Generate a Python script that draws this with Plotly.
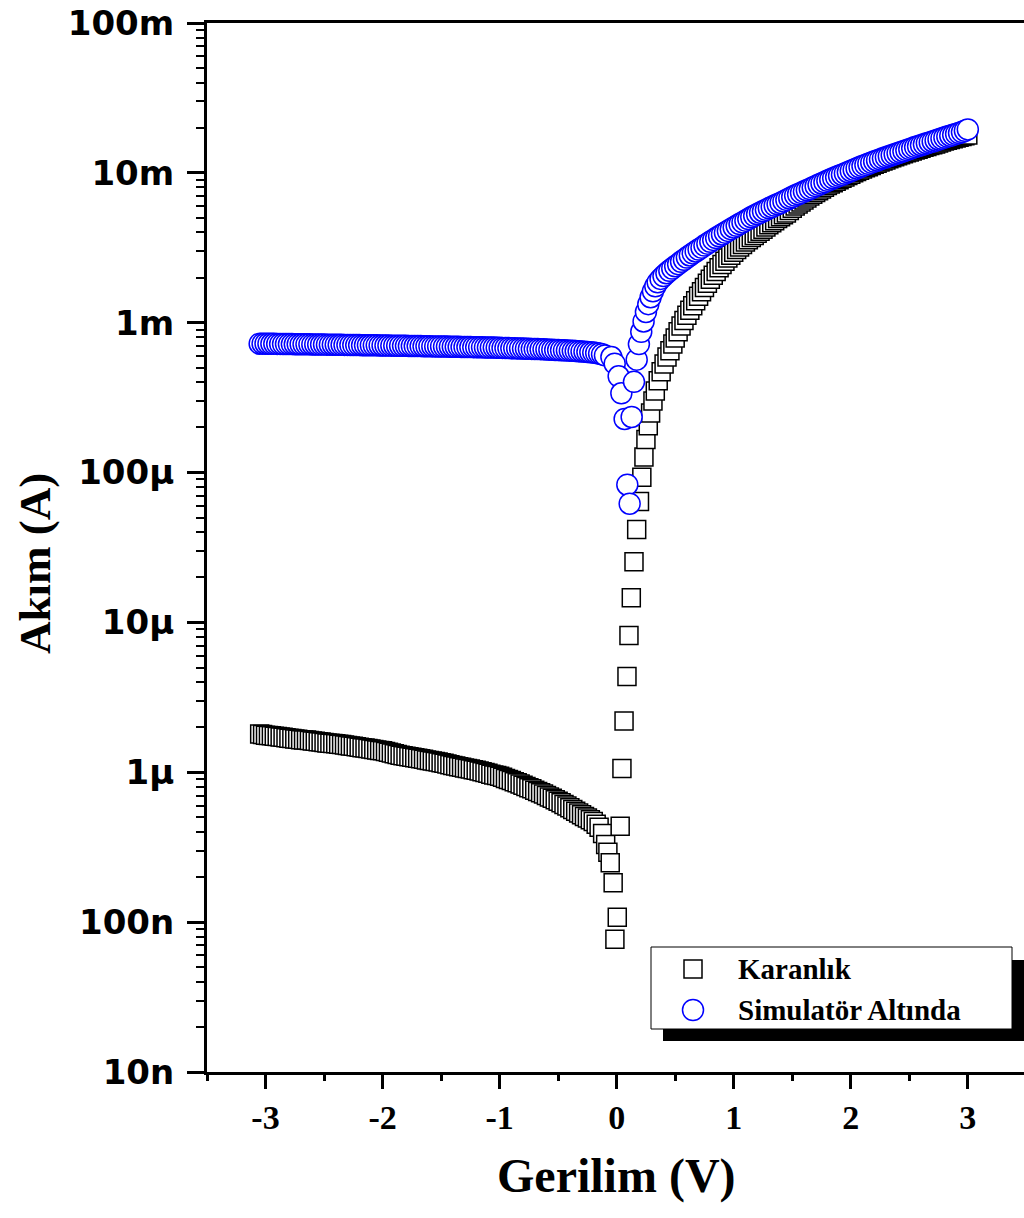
import plotly.graph_objects as go

# ---------------- data ----------------
# Karanlık (dark): voltage [V] and current [µA]
dark_v = [
    -3.050, -3.025, -3.000, -2.975, -2.950, -2.925, -2.900, -2.875, -2.850, -2.825,
    -2.800, -2.775, -2.750, -2.725, -2.700, -2.675, -2.650, -2.625, -2.600, -2.575,
    -2.550, -2.525, -2.500, -2.475, -2.450, -2.425, -2.400, -2.375, -2.350, -2.325,
    -2.300, -2.275, -2.250, -2.225, -2.200, -2.175, -2.150, -2.125, -2.100, -2.075,
    -2.050, -2.025, -2.000, -1.975, -1.950, -1.925, -1.900, -1.875, -1.850, -1.825,
    -1.800, -1.775, -1.750, -1.725, -1.700, -1.675, -1.650, -1.625, -1.600, -1.575,
    -1.550, -1.525, -1.500, -1.475, -1.450, -1.425, -1.400, -1.375, -1.350, -1.325,
    -1.300, -1.275, -1.250, -1.225, -1.200, -1.175, -1.150, -1.125, -1.100, -1.075,
    -1.050, -1.025, -1.000, -0.975, -0.950, -0.925, -0.900, -0.875, -0.850, -0.825,
    -0.800, -0.775, -0.750, -0.725, -0.700, -0.675, -0.650, -0.625, -0.600, -0.575,
    -0.550, -0.525, -0.500, -0.475, -0.450, -0.425, -0.400, -0.375, -0.350, -0.325,
    -0.300, -0.275, -0.250, -0.225, -0.200, -0.175, -0.150, -0.120,
    -0.094, -0.075, -0.055, -0.030, -0.015, 0.005, 0.030, 0.045, 0.063, 0.088,
    0.105, 0.125, 0.148, 0.171, 0.195, 0.215, 0.233, 0.250, 0.270, 0.290,
    0.310, 0.330, 0.355, 0.380, 0.405, 0.430, 0.455, 0.480,
    0.500, 0.525, 0.550, 0.575, 0.600, 0.625, 0.650, 0.675, 0.700, 0.725,
    0.750, 0.775, 0.800, 0.825, 0.850, 0.875, 0.900, 0.925, 0.950, 0.975,
    1.000, 1.025, 1.050, 1.075, 1.100, 1.125, 1.150, 1.175, 1.200, 1.225,
    1.250, 1.275, 1.300, 1.325, 1.350, 1.375, 1.400, 1.425, 1.450, 1.475,
    1.500, 1.525, 1.550, 1.575, 1.600, 1.625, 1.650, 1.675, 1.700, 1.725,
    1.750, 1.775, 1.800, 1.825, 1.850, 1.875, 1.900, 1.925, 1.950, 1.975,
    2.000, 2.025, 2.050, 2.075, 2.100, 2.125, 2.150, 2.175, 2.200, 2.225,
    2.250, 2.275, 2.300, 2.325, 2.350, 2.375, 2.400, 2.425, 2.450, 2.475,
    2.500, 2.525, 2.550, 2.575, 2.600, 2.625, 2.650, 2.675, 2.700, 2.725,
    2.750, 2.775, 2.800, 2.825, 2.850, 2.875, 2.900, 2.925, 2.950, 2.975,
    3.000,
]
dark_i_uA = [
    1.80, 1.79, 1.77, 1.76, 1.75, 1.74, 1.73, 1.72, 1.71, 1.70,
    1.69, 1.68, 1.67, 1.66, 1.65, 1.645, 1.64, 1.63, 1.62, 1.61,
    1.60, 1.59, 1.58, 1.57, 1.565, 1.557, 1.55, 1.54, 1.53, 1.52,
    1.51, 1.50, 1.49, 1.48, 1.47, 1.46, 1.45, 1.44, 1.43, 1.42,
    1.41, 1.40, 1.39, 1.375, 1.36, 1.345, 1.33, 1.315, 1.30, 1.29,
    1.28, 1.27, 1.26, 1.25, 1.24, 1.23, 1.22, 1.21, 1.20, 1.19,
    1.18, 1.17, 1.16, 1.148, 1.135, 1.122, 1.11, 1.10, 1.09, 1.08,
    1.07, 1.06, 1.05, 1.04, 1.03, 1.02, 1.01, 0.997, 0.985, 0.972,
    0.96, 0.95, 0.94, 0.925, 0.91, 0.895, 0.88, 0.865, 0.85, 0.835,
    0.82, 0.805, 0.79, 0.775, 0.76, 0.745, 0.73, 0.715, 0.70, 0.685,
    0.67, 0.655, 0.64, 0.625, 0.61, 0.595, 0.58, 0.565, 0.55, 0.535,
    0.52, 0.507, 0.495, 0.482, 0.47, 0.45, 0.43, 0.39,
    0.33, 0.293, 0.249, 0.183, 0.077, 0.108, 0.436, 1.06, 2.2, 4.35,
    8.19, 14.6, 25.4, 41.7, 64.0, 93.0, 127.0, 166.0, 205.0, 250.0,
    300.0, 350.0, 410.0, 470.0, 530.0, 590.0, 650.0, 720.0,
    790.0, 870.0, 950.0, 1035.0, 1120.0, 1210.0, 1300.0, 1400.0, 1500.0, 1610.0,
    1720.0, 1835.0, 1950.0, 2075.0, 2200.0, 2325.0, 2450.0, 2575.0, 2700.0, 2825.0,
    2950.0, 3075.0, 3200.0, 3325.0, 3450.0, 3575.0, 3700.0, 3825.0, 3950.0, 4075.0,
    4200.0, 4350.0, 4500.0, 4650.0, 4800.0, 4950.0, 5100.0, 5250.0, 5400.0, 5600.0,
    5800.0, 6000.0, 6200.0, 6400.0, 6600.0, 6800.0, 7000.0, 7200.0, 7400.0, 7600.0,
    7800.0, 8020.0, 8250.0, 8420.0, 8600.0, 8800.0, 9000.0, 9200.0, 9400.0, 9600.0,
    9800.0, 10000.0, 10200.0, 10400.0, 10600.0, 10800.0, 11000.0, 11200.0, 11400.0, 11600.0,
    11800.0, 12000.0, 12200.0, 12400.0, 12600.0, 12800.0, 13000.0, 13200.0, 13400.0, 13600.0,
    13800.0, 14000.0, 14200.0, 14400.0, 14600.0, 14800.0, 15000.0, 15200.0, 15400.0, 15600.0,
    15800.0, 16050.0, 16300.0, 16500.0, 16700.0, 16900.0, 17100.0, 17300.0, 17500.0, 17700.0,
    17900.0,
]

# Simulatör Altında (illuminated): voltage [V] and current [mA]
light_v = [
    -3.050, -3.025, -3.000, -2.975, -2.950, -2.925, -2.900, -2.875, -2.850, -2.825,
    -2.800, -2.775, -2.750, -2.725, -2.700, -2.675, -2.650, -2.625, -2.600, -2.575,
    -2.550, -2.525, -2.500, -2.475, -2.450, -2.425, -2.400, -2.375, -2.350, -2.325,
    -2.300, -2.275, -2.250, -2.225, -2.200, -2.175, -2.150, -2.125, -2.100, -2.075,
    -2.050, -2.025, -2.000, -1.975, -1.950, -1.925, -1.900, -1.875, -1.850, -1.825,
    -1.800, -1.775, -1.750, -1.725, -1.700, -1.675, -1.650, -1.625, -1.600, -1.575,
    -1.550, -1.525, -1.500, -1.475, -1.450, -1.425, -1.400, -1.375, -1.350, -1.325,
    -1.300, -1.275, -1.250, -1.225, -1.200, -1.175, -1.150, -1.125, -1.100, -1.075,
    -1.050, -1.025, -1.000, -0.975, -0.950, -0.925, -0.900, -0.875, -0.850, -0.825,
    -0.800, -0.775, -0.750, -0.725, -0.700, -0.675, -0.650, -0.625, -0.600, -0.575,
    -0.550, -0.525, -0.500, -0.475, -0.450, -0.425, -0.400, -0.375, -0.350, -0.325,
    -0.300, -0.275, -0.250, -0.225, -0.200, -0.175, -0.150, -0.125, -0.100,
    -0.045, -0.017, 0.017, 0.040, 0.068, 0.091, 0.111, 0.128, 0.148, 0.171,
    0.190, 0.210, 0.230, 0.250, 0.270, 0.290, 0.310, 0.330,
    0.350, 0.375, 0.400, 0.425, 0.450, 0.475, 0.500, 0.525, 0.550, 0.575,
    0.600, 0.625, 0.650, 0.675, 0.700, 0.725, 0.750, 0.775, 0.800, 0.825,
    0.850, 0.875, 0.900, 0.925, 0.950, 0.975, 1.000, 1.025, 1.050, 1.075,
    1.100, 1.125, 1.150, 1.175, 1.200, 1.225, 1.250, 1.275, 1.300, 1.325,
    1.350, 1.375, 1.400, 1.425, 1.450, 1.475, 1.500, 1.525, 1.550, 1.575,
    1.600, 1.625, 1.650, 1.675, 1.700, 1.725, 1.750, 1.775, 1.800, 1.825,
    1.850, 1.875, 1.900, 1.925, 1.950, 1.975, 2.000, 2.025, 2.050, 2.075,
    2.100, 2.125, 2.150, 2.175, 2.200, 2.225, 2.250, 2.275, 2.300, 2.325,
    2.350, 2.375, 2.400, 2.425, 2.450, 2.475, 2.500, 2.525, 2.550, 2.575,
    2.600, 2.625, 2.650, 2.675, 2.700, 2.725, 2.750, 2.775, 2.800, 2.825,
    2.850, 2.875, 2.900, 2.925, 2.950, 2.975, 3.000,
]
light_i_mA = [
    0.725, 0.725, 0.724, 0.724, 0.723, 0.723, 0.722, 0.722, 0.721, 0.721,
    0.720, 0.720, 0.719, 0.719, 0.718, 0.718, 0.717, 0.717, 0.716, 0.716,
    0.715, 0.715, 0.715, 0.714, 0.714, 0.713, 0.713, 0.712, 0.712, 0.711,
    0.711, 0.710, 0.710, 0.709, 0.709, 0.708, 0.708, 0.707, 0.707, 0.706,
    0.706, 0.705, 0.705, 0.704, 0.704, 0.703, 0.703, 0.702, 0.702, 0.701,
    0.701, 0.700, 0.700, 0.699, 0.699, 0.698, 0.697, 0.696, 0.696, 0.695,
    0.695, 0.694, 0.694, 0.693, 0.693, 0.692, 0.692, 0.691, 0.690, 0.689,
    0.689, 0.688, 0.688, 0.687, 0.686, 0.685, 0.685, 0.684, 0.683, 0.682,
    0.682, 0.681, 0.680, 0.679, 0.678, 0.677, 0.676, 0.675, 0.674, 0.673,
    0.672, 0.671, 0.670, 0.669, 0.668, 0.667, 0.666, 0.664, 0.663, 0.661,
    0.660, 0.658, 0.657, 0.655, 0.654, 0.652, 0.651, 0.649, 0.647, 0.645,
    0.643, 0.641, 0.638, 0.635, 0.632, 0.628, 0.622, 0.615, 0.605,
    0.590, 0.533, 0.439, 0.338, 0.228, 0.083, 0.062, 0.235, 0.403, 0.567,
    0.72, 0.87, 1.02, 1.18, 1.33, 1.48, 1.62, 1.75,
    1.86, 1.96, 2.05, 2.14, 2.22, 2.30, 2.38, 2.46, 2.55, 2.63,
    2.72, 2.81, 2.90, 2.99, 3.08, 3.17, 3.27, 3.37, 3.47, 3.57,
    3.67, 3.77, 3.88, 3.99, 4.10, 4.21, 4.32, 4.43, 4.55, 4.67,
    4.80, 4.92, 5.05, 5.17, 5.30, 5.42, 5.55, 5.67, 5.80, 5.92,
    6.05, 6.17, 6.30, 6.45, 6.60, 6.75, 6.90, 7.05, 7.20, 7.35,
    7.50, 7.65, 7.80, 7.97, 8.15, 8.32, 8.50, 8.67, 8.85, 9.02,
    9.20, 9.37, 9.55, 9.72, 9.90, 10.1, 10.3, 10.5, 10.7, 10.9,
    11.1, 11.3, 11.5, 11.7, 11.9, 12.1, 12.3, 12.5, 12.7, 12.9,
    13.1, 13.3, 13.5, 13.72, 13.95, 14.17, 14.4, 14.62, 14.85, 15.07,
    15.3, 15.52, 15.75, 15.97, 16.2, 16.45, 16.7, 16.95, 17.2, 17.45,
    17.7, 17.95, 18.2, 18.45, 18.7, 19.1, 19.5,
]

dark_i = [v * 1e-6 for v in dark_i_uA]
light_i = [v * 1e-3 for v in light_i_mA]

x_tickvals = [-3, -2, -1, 0, 1, 2, 3]
x_ticktext = ["-3", "-2", "-1", "0", "1", "2", "3"]
y_tickvals = [1e-8, 1e-7, 1e-6, 1e-5, 1e-4, 1e-3, 1e-2, 1e-1]
y_ticktext = ["10n", "100n", "1µ", "10µ", "100µ", "1m", "10m", "100m"]

series_names = ["Karanlık", "Simulatör Altında"]

# ---------------- geometry (body margin removed by post_script) ----------------
W, H = 1024, 1218
L, R, T, B = 207, 0, 23, 146
pw, ph = W - L - R, H - T - B


def sx(px):  # screen x -> paper fraction
    return (px - L) / pw


def sy(py):  # screen y -> paper fraction
    return (H - B - py) / ph


SERIF = "Liberation Serif, Times New Roman, serif"
SANS = "DejaVu Sans, Arial, sans-serif"
BLUE = "#0000FF"

fig = go.Figure()
fig.add_trace(go.Scatter(
    x=dark_v, y=dark_i, mode="markers", name=series_names[0], showlegend=False,
    marker=dict(symbol="square", size=18, color="white",
                line=dict(color="black", width=1.5)),
))
fig.add_trace(go.Scatter(
    x=light_v, y=light_i, mode="markers", name=series_names[1], showlegend=False,
    marker=dict(symbol="circle", size=21, color="white",
                line=dict(color=BLUE, width=1.5)),
))

# legend symbols on an overlay axis measured in screen pixels
legend_sym_x = [693, 693]
legend_sym_y = [969, 1010]
fig.add_trace(go.Scatter(
    x=[legend_sym_x[0]], y=[legend_sym_y[0]], xaxis="x2", yaxis="y2",
    mode="markers", showlegend=False, hoverinfo="skip", cliponaxis=False,
    marker=dict(symbol="square", size=18, color="white",
                line=dict(color="black", width=1.5)),
))
fig.add_trace(go.Scatter(
    x=[legend_sym_x[1]], y=[legend_sym_y[1]], xaxis="x2", yaxis="y2",
    mode="markers", showlegend=False, hoverinfo="skip", cliponaxis=False,
    marker=dict(symbol="circle", size=21, color="white",
                line=dict(color=BLUE, width=1.5)),
))

fig.update_layout(
    width=W, height=H,
    margin=dict(l=L, r=R, t=T, b=B, pad=0, autoexpand=False),
    paper_bgcolor="white", plot_bgcolor="white",
    showlegend=False,
    xaxis=dict(
        range=[-3.5, 3.48], showgrid=False, zeroline=False, automargin=False,
        showline=True, linecolor="black", linewidth=3, mirror=True,
        ticks="outside", ticklen=14, tickwidth=3, tickcolor="black",
        tickvals=x_tickvals, ticktext=x_ticktext,
        tickfont=dict(family=SERIF, size=34, color="black", weight="bold"),
        ticklabelstandoff=-1, ticklabeloverflow="allow",
        minor=dict(ticks="outside", ticklen=6, tickwidth=3, tickcolor="black",
                   dtick=0.5, tick0=0, showgrid=False),
    ),
    yaxis=dict(
        type="log", range=[-8, -1], showgrid=False, zeroline=False, automargin=False,
        showline=True, linecolor="black", linewidth=3, mirror=False,
        ticks="outside", ticklen=17, tickwidth=3, tickcolor="black",
        tickvals=y_tickvals, ticktext=y_ticktext,
        tickfont=dict(family=SANS, size=34, color="black", weight="bold"),
        ticklabelstandoff=6, ticklabeloverflow="allow",
        minor=dict(ticks="outside", ticklen=8, tickwidth=2, tickcolor="black",
                   dtick="D1", showgrid=False),
    ),
    xaxis2=dict(overlaying="x", anchor="y2", range=[207, 1024], visible=False,
                fixedrange=True, automargin=False),
    yaxis2=dict(overlaying="y", anchor="x2", range=[1072, 23], visible=False,
                fixedrange=True, automargin=False),
    shapes=[
        dict(type="rect", xref="paper", yref="paper",
             x0=sx(663), x1=sx(1045), y0=sy(1041), y1=sy(960),
             fillcolor="black", line=dict(width=0), layer="below"),
        dict(type="rect", xref="paper", yref="paper",
             x0=sx(651), x1=sx(1012), y0=sy(1029), y1=sy(947),
             fillcolor="white", line=dict(color="black", width=1), layer="below"),
    ],
    annotations=[
        dict(text=series_names[0], xref="paper", yref="paper",
             x=sx(736), y=sy(969), xanchor="left", yanchor="middle", showarrow=False,
             font=dict(family=SERIF, size=29, color="black", weight="bold")),
        dict(text=series_names[1], xref="paper", yref="paper",
             x=sx(736), y=sy(1010), xanchor="left", yanchor="middle", showarrow=False,
             font=dict(family=SERIF, size=29, color="black", weight="bold")),
        dict(text="Akım (A)", xref="paper", yref="paper",
             x=sx(35), y=sy(564), textangle=-90,
             showarrow=False, xanchor="center", yanchor="middle",
             font=dict(family=SERIF, size=45, color="black", weight="bold")),
        dict(text="Gerilim (V)", xref="paper", yref="paper",
             x=sx(616), y=sy(1176),
             showarrow=False, xanchor="center", yanchor="middle",
             font=dict(family=SERIF, size=48, color="black", weight="bold")),
    ],
)

fig.write_html(
    "out.html",
    config={"displayModeBar": False},
    post_script="document.body.style.margin='0';document.body.style.overflow='hidden';",
)
